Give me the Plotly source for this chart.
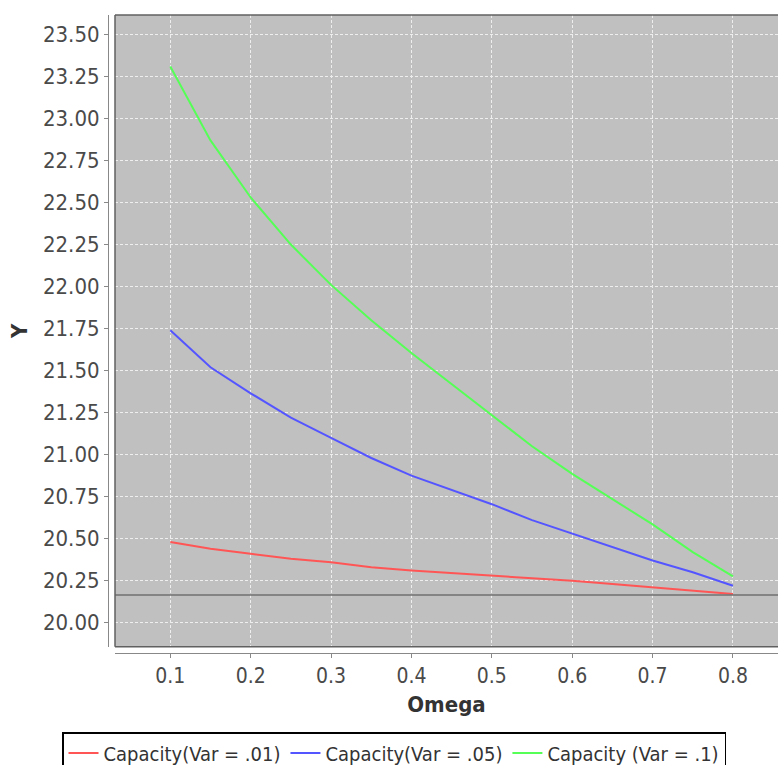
import plotly.graph_objects as go

omega = [0.1, 0.15, 0.2, 0.25, 0.3, 0.35, 0.4, 0.45, 0.5, 0.55, 0.6, 0.65, 0.7, 0.75, 0.8]
cap_var_01 = [20.48, 20.44, 20.41, 20.38, 20.36, 20.33, 20.31, 20.295, 20.28, 20.265, 20.25, 20.23, 20.21, 20.19, 20.17]
cap_var_05 = [21.74, 21.52, 21.365, 21.22, 21.10, 20.98, 20.875, 20.79, 20.705, 20.61, 20.53, 20.45, 20.37, 20.30, 20.22]
cap_var_1 = [23.31, 22.87, 22.53, 22.25, 22.01, 21.80, 21.605, 21.42, 21.235, 21.05, 20.885, 20.735, 20.585, 20.42, 20.275]
series_names = ["Capacity(Var = .01)", "Capacity(Var = .05)", "Capacity (Var = .1)"]
series_colors = ["#ff5555", "#5555ff", "#55ff55"]
marker_value = 20.165
y_ticks = [20.0, 20.25, 20.5, 20.75, 21.0, 21.25, 21.5, 21.75, 22.0, 22.25, 22.5, 22.75, 23.0, 23.25, 23.5]
x_ticks = [0.1, 0.2, 0.3, 0.4, 0.5, 0.6, 0.7, 0.8]

FONT = "DejaVu Sans Condensed, DejaVu Sans, sans-serif"
W, H = 778, 765
ml, mr, mt, mb = 108, 0, 15, 112
pw, ph = W - ml - mr, H - mt - mb

fig = go.Figure()
for name, ys, col in zip(series_names, [cap_var_01, cap_var_05, cap_var_1], series_colors):
    fig.add_trace(go.Scatter(x=omega, y=ys, mode="lines", name=name,
                             line=dict(color=col, width=2)))

fig.add_hline(y=marker_value, line=dict(color="#707070", width=1.5))

# plot outline (left, top, bottom)
for (x0, y0, x1, y1) in [(0, 0, 0, 1), (0, 1, 1.02, 1), (0, 0, 1.02, 0)]:
    fig.add_shape(type="line", xref="x domain", yref="y domain", x0=x0, y0=y0, x1=x1, y1=y1,
                  line=dict(color="#606060", width=1.5), layer="above")

fig.update_layout(
    width=W, height=H,
    margin=dict(l=ml, r=mr, t=mt, b=mb, autoexpand=False),
    paper_bgcolor="white",
    plot_bgcolor="#c0c0c0",
    font=dict(family=FONT, size=21, color="#4a4a4a"),
    showlegend=True,
    legend=dict(orientation="h", x=(62 - ml) / pw, y=-(732 - (H - mb)) / ph,
                xanchor="left", yanchor="top",
                bordercolor="black", borderwidth=1.5, bgcolor="white",
                font=dict(family=FONT, size=20, color="#333333"),
                itemwidth=30, tracegroupgap=0),
    xaxis=dict(domain=[7 / pw, 1], range=[0.0312, 0.856],
               tickvals=x_ticks, ticktext=[f"{v:.1f}" for v in x_ticks],
               tickfont=dict(size=21),
               showgrid=True, gridcolor="#eeeeee", griddash="3px,2px", gridwidth=1,
               zeroline=False, showline=True, linecolor="#888888", linewidth=1,
               ticks="outside", ticklen=4, tickcolor="#888888",
               anchor="free", position=0,
               title=dict(text="<b>Omega</b>", font=dict(size=22, color="#333333"), standoff=9)),
    yaxis=dict(domain=[6.3 / ph, 1], range=[19.857, 23.616],
               tickvals=y_ticks, ticktext=[f"{v:.2f}" for v in y_ticks],
               tickfont=dict(size=22),
               showgrid=True, gridcolor="#eeeeee", griddash="3px,2px", gridwidth=1,
               zeroline=False, showline=True, linecolor="#888888", linewidth=1,
               ticks="outside", ticklen=4, tickcolor="#888888",
               anchor="free", position=0,
               title=dict(text="<b>Y</b>", font=dict(size=22, color="#333333"), standoff=8)),
)

fig.write_html("out.html")
